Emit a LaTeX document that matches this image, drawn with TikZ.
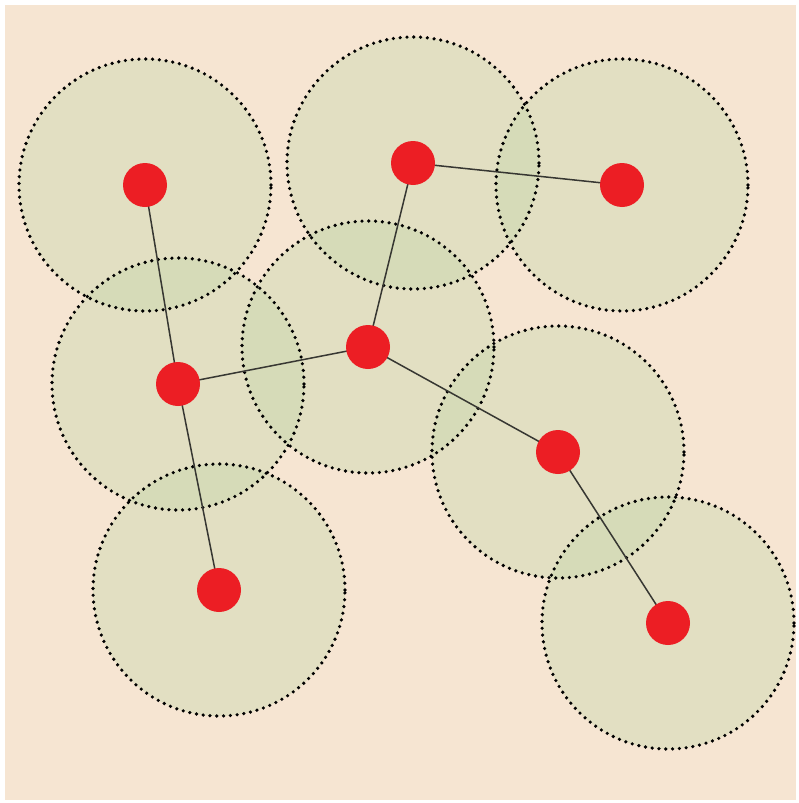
\documentclass[tikz,border=0pt]{standalone}
\definecolor{parch}{RGB}{246,229,210}
\definecolor{zonegreen}{RGB}{196,214,168}
\definecolor{dotred}{RGB}{236,30,36}
\definecolor{edgegray}{RGB}{55,55,50}
\tikzset{
  zone/.style={circle, minimum size=252pt, inner sep=0pt, fill=zonegreen, fill opacity=0.38},
  zonerim/.style={draw=black, line width=3.6pt, line cap=round, dash pattern=on 0pt off 6.8pt},
  site/.style={circle, minimum size=44pt, inner sep=0pt, fill=dotred},
  link/.style={draw=edgegray, line width=1.5pt}
}
\begin{document}
\begin{tikzpicture}[x=1pt,y=-1pt]
\useasboundingbox (0,0) rectangle (798,803);
\fill[white] (0,0) rectangle (798,803);
\fill[parch] (5,5) rectangle (796,800);
% coordinates of sites
\foreach \n/\x/\y in {a/145/185, b/413/163, c/622/185, d/178/384, e/368/347, f/558/452, g/219/590, h/668/623}
  \coordinate (p\n) at (\x,\y);
% zones
\foreach \n in {a,b,c,d,e,f,g,h}
  \node[zone] (z\n) at (p\n) {};
\foreach \n in {a,b,c,d,e,f,g,h}
  \draw[zonerim] (p\n) circle (126pt);
% links
\draw[link] (pa) -- (pd);
\draw[link] (pd) -- (pg);
\draw[link] (pd) -- (pe);
\draw[link] (pe) -- (pb);
\draw[link] (pb) -- (pc);
\draw[link] (pe) -- (pf);
\draw[link] (pf) -- (ph);
% sites
\foreach \n in {a,b,c,d,e,f,g,h}
  \node[site] (s\n) at (p\n) {};
\end{tikzpicture}
\end{document}
